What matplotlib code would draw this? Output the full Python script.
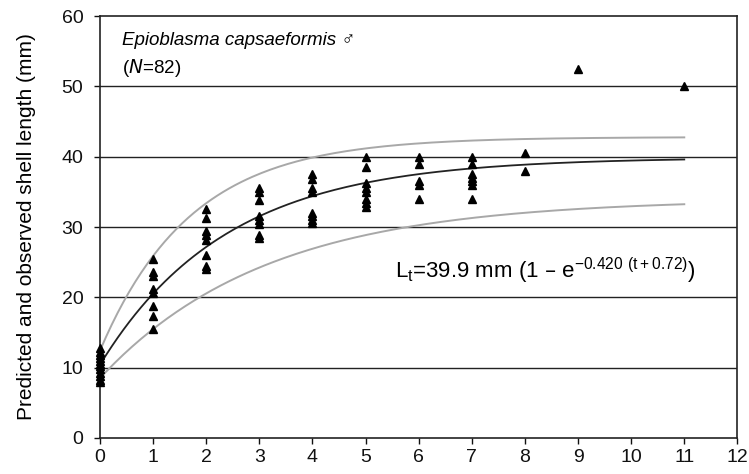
import numpy as np
import matplotlib
matplotlib.use("Agg")
import matplotlib.pyplot as plt

plt.rcParams['font.family'] = ['Liberation Sans', 'DejaVu Sans']

# observed lengths (mm) at each age (years)
age0 = [12.8, 12.2, 11.8, 11.4, 11.0, 10.5, 10.2, 9.8, 9.3, 8.8, 8.3, 8.0]
age1 = [25.5, 23.6, 23.0, 21.2, 20.6, 18.7, 17.3, 15.5]
age2 = [32.5, 31.3, 29.5, 28.8, 28.2, 26.0, 24.5, 24.0]
age3 = [35.6, 35.0, 33.8, 31.5, 31.0, 30.5, 28.8, 28.4]
age4 = [37.5, 36.8, 35.6, 35.0, 32.0, 31.5, 31.0, 30.6]
age5 = [40.0, 38.5, 36.2, 35.6, 35.0, 34.0, 33.4, 32.8]
age6 = [40.0, 39.0, 36.6, 36.0, 34.0]
age7 = [40.0, 39.0, 37.5, 37.0, 36.5, 36.0, 34.0]
age8 = [40.5, 38.0]
age9 = [52.5]
age11 = [50.0]
ages = [0, 1, 2, 3, 4, 5, 6, 7, 8, 9, 11]
observed = [age0, age1, age2, age3, age4, age5, age6, age7, age8, age9, age11]

# von Bertalanffy parameters: L_inf, K, t0 offset
fit_params = [39.9, 0.420, 0.72]
upper_params = [42.8, 0.586, 0.585]
lower_params = [34.0, 0.320, 0.90]

def vbgf(t, p):
    return p[0] * (1 - np.exp(-p[1] * (t + p[2])))

fig = plt.figure(figsize=(7.49, 4.74), dpi=100)
ax = fig.add_axes([0.1335, 0.076, 0.851, 0.89])

t = np.linspace(0, 11, 200)
ax.plot(t, vbgf(t, upper_params), color='#a8a8a8', lw=1.4, zorder=2)
ax.plot(t, vbgf(t, lower_params), color='#a8a8a8', lw=1.4, zorder=2)
ax.plot(t, vbgf(t, fit_params), color='#222222', lw=1.3, zorder=3)

for a, vals in zip(ages, observed):
    ax.plot([a] * len(vals), vals, linestyle='none', marker='^', ms=5.5,
            color='black', zorder=4, clip_on=False)

for g in [10, 20, 30, 40, 50]:
    ax.axhline(g, color='#222222', lw=1.0, zorder=1)

ax.set_xlim(0, 12)
ax.set_ylim(0, 60)
ax.set_xticks(range(0, 13))
ax.set_yticks(range(0, 61, 10))
ax.tick_params(direction='out', length=4, width=1, labelsize=14, colors='#111111')
ax.tick_params(axis='y', pad=8)
ax.tick_params(axis='x', pad=4)
for s in ax.spines.values():
    s.set_linewidth(1.2)
    s.set_color('#222222')

ax.set_ylabel('Predicted and observed shell length (mm)', fontsize=15, labelpad=18)

ax.text(0.41, 56.6, 'Epioblasma capsaeformis \u2642', fontsize=13.5,
        style='italic', va='center')
ax.text(0.41, 52.6, '($\\it{N}$=82)', fontsize=13.5, va='center')
ax.text(5.56, 23.8, 'L$_{\\mathregular{t}}$=39.9 mm (1 \u2013 e$^{\\mathregular{\u22120.420\\ (t+0.72)}}$)',
        fontsize=16, va='center')

fig.savefig('out.png', dpi=100)
